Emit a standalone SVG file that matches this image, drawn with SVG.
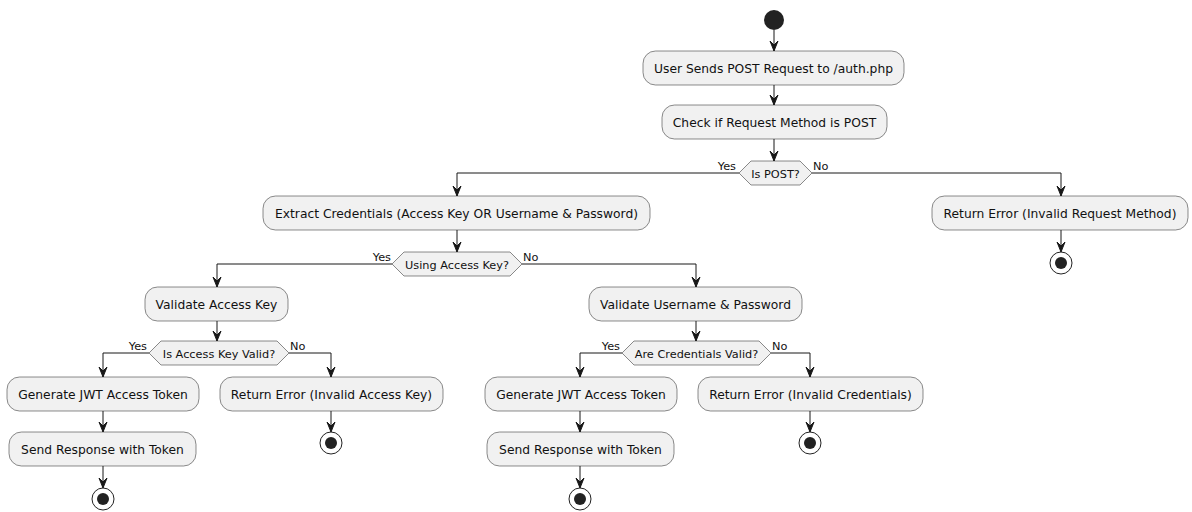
<svg xmlns="http://www.w3.org/2000/svg" width="1192" height="512" viewBox="0 0 1192 512">
<defs>
<marker id="arr" markerUnits="userSpaceOnUse" markerWidth="12" markerHeight="10" refX="10" refY="5" orient="auto" viewBox="0 0 12 10">
<path d="M0,1 L10,5 L0,9 L4,5 Z" fill="#181818" stroke="#181818" stroke-width="1"/>
</marker>
</defs>
<style>
.box{fill:#F1F1F1;stroke:#181818;stroke-width:0.5}
.dia{fill:#F1F1F1;stroke:#181818;stroke-width:0.5}
.t{font-family:"DejaVu Sans",sans-serif;font-size:12.3px;fill:#111;text-anchor:middle}
.dt{font-family:"DejaVu Sans",sans-serif;font-size:11.3px;fill:#111;text-anchor:middle}
.lb{font-family:"DejaVu Sans",sans-serif;font-size:11.3px;fill:#111}
.c{fill:none;stroke:#181818;stroke-width:1;marker-end:url(#arr)}
.start{fill:#222222}
.endo{fill:none;stroke:#222222;stroke-width:1}
.endi{fill:#222222}
</style>
<rect width="1192" height="512" fill="#FFFFFF"/>
<g id="connectors">
<path class="c" d="M774,30 L774,51"/>
<path class="c" d="M774,85 L774,105"/>
<path class="c" d="M774,139 L774,161"/>
<path class="c" d="M739,173 L457,173 L457,196"/>
<path class="c" d="M812,173 L1061,173 L1061,196"/>
<path class="c" d="M1061,230 L1061,252"/>
<path class="c" d="M457,230 L457,252"/>
<path class="c" d="M392,264 L217,264 L217,287"/>
<path class="c" d="M522,264 L696,264 L696,287"/>
<path class="c" d="M217,321 L217,341"/>
<path class="c" d="M696,321 L696,341"/>
<path class="c" d="M149,353 L103,353 L103,377"/>
<path class="c" d="M289,353 L331,353 L331,377"/>
<path class="c" d="M622,353 L580,353 L580,377"/>
<path class="c" d="M771,353 L810,353 L810,377"/>
<path class="c" d="M103,411 L103,432"/>
<path class="c" d="M580,411 L580,432"/>
<path class="c" d="M331,411 L331,432"/>
<path class="c" d="M810,411 L810,432"/>
<path class="c" d="M103,466 L103,488"/>
<path class="c" d="M580,466 L580,488"/>
<text class="lb" x="736" y="170" text-anchor="end">Yes</text>
<text class="lb" x="813" y="170">No</text>
<text class="lb" x="391" y="261" text-anchor="end">Yes</text>
<text class="lb" x="523" y="261">No</text>
<text class="lb" x="147" y="350" text-anchor="end">Yes</text>
<text class="lb" x="290" y="350">No</text>
<text class="lb" x="620" y="350" text-anchor="end">Yes</text>
<text class="lb" x="772" y="350">No</text>
</g>
<g id="start"><circle class="start" cx="774" cy="20" r="10"/></g>
<g id="n1"><rect class="box" x="643" y="51" width="261" height="34" rx="12.5"/><text class="t" x="773.5" y="72.5">User Sends POST Request to /auth.php</text></g>
<g id="n2"><rect class="box" x="662" y="105" width="225" height="34" rx="12.5"/><text class="t" x="774.5" y="126.5">Check if Request Method is POST</text></g>
<g id="d1"><polygon class="dia" points="751,161 800,161 812,173 800,185 751,185 739,173"/><text class="dt" x="775.5" y="177.5">Is POST?</text></g>
<g id="n3"><rect class="box" x="263" y="196" width="387" height="34" rx="12.5"/><text class="t" x="456.5" y="217.5">Extract Credentials (Access Key OR Username &amp; Password)</text></g>
<g id="n4"><rect class="box" x="932" y="196" width="256" height="34" rx="12.5"/><text class="t" x="1060" y="217.5">Return Error (Invalid Request Method)</text></g>
<g id="e1"><circle class="endo" cx="1061" cy="263" r="11"/><circle class="endi" cx="1061" cy="263" r="6"/></g>
<g id="d2"><polygon class="dia" points="404,252 510,252 522,264 510,276 404,276 392,264"/><text class="dt" x="457" y="268.5">Using Access Key?</text></g>
<g id="n5"><rect class="box" x="145" y="287" width="143" height="34" rx="12.5"/><text class="t" x="216.5" y="308.5">Validate Access Key</text></g>
<g id="n6"><rect class="box" x="589" y="287" width="213" height="34" rx="12.5"/><text class="t" x="695.5" y="308.5">Validate Username &amp; Password</text></g>
<g id="d3"><polygon class="dia" points="161,341 277,341 289,353 277,365 161,365 149,353"/><text class="dt" x="219" y="357.5">Is Access Key Valid?</text></g>
<g id="d4"><polygon class="dia" points="634,341 759,341 771,353 759,365 634,365 622,353"/><text class="dt" x="696.5" y="357.5">Are Credentials Valid?</text></g>
<g id="n7"><rect class="box" x="7" y="377" width="192" height="34" rx="12.5"/><text class="t" x="103" y="398.5">Generate JWT Access Token</text></g>
<g id="n8"><rect class="box" x="220" y="377" width="223" height="34" rx="12.5"/><text class="t" x="331.5" y="398.5">Return Error (Invalid Access Key)</text></g>
<g id="n9"><rect class="box" x="485" y="377" width="192" height="34" rx="12.5"/><text class="t" x="581" y="398.5">Generate JWT Access Token</text></g>
<g id="n10"><rect class="box" x="698" y="377" width="225" height="34" rx="12.5"/><text class="t" x="810.5" y="398.5">Return Error (Invalid Credentials)</text></g>
<g id="n11"><rect class="box" x="9" y="432" width="187" height="34" rx="12.5"/><text class="t" x="102.5" y="453.5">Send Response with Token</text></g>
<g id="n12"><rect class="box" x="487" y="432" width="187" height="34" rx="12.5"/><text class="t" x="580.5" y="453.5">Send Response with Token</text></g>
<g id="e2"><circle class="endo" cx="331" cy="443" r="11"/><circle class="endi" cx="331" cy="443" r="6"/></g>
<g id="e3"><circle class="endo" cx="810" cy="443" r="11"/><circle class="endi" cx="810" cy="443" r="6"/></g>
<g id="e4"><circle class="endo" cx="103" cy="499" r="11"/><circle class="endi" cx="103" cy="499" r="6"/></g>
<g id="e5"><circle class="endo" cx="580" cy="499" r="11"/><circle class="endi" cx="580" cy="499" r="6"/></g>
</svg>
